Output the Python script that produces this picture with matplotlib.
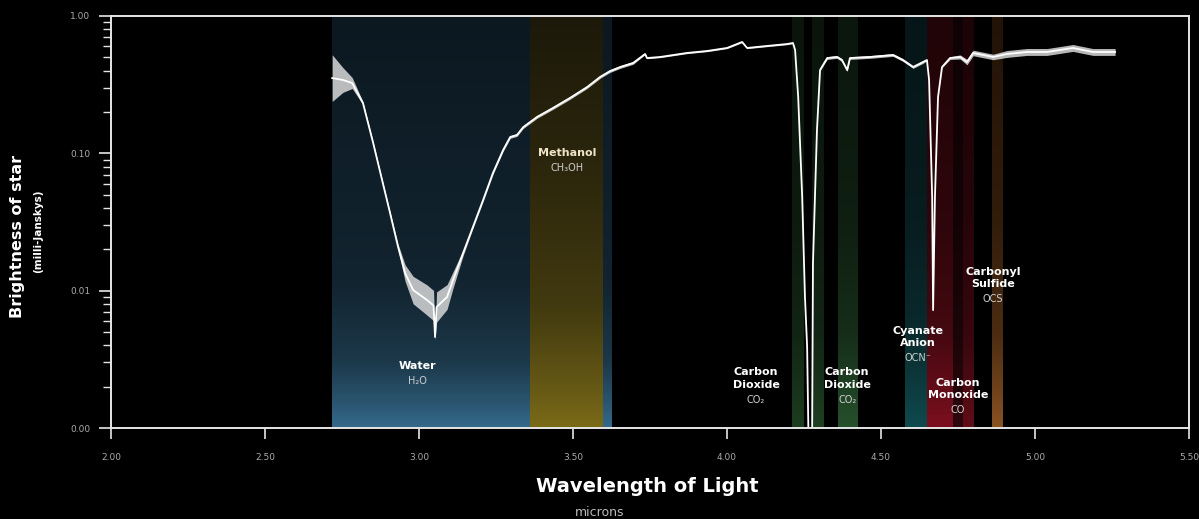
import numpy as np
import matplotlib
matplotlib.use("Agg")
import matplotlib.pyplot as plt
from matplotlib.colors import LinearSegmentedColormap, to_rgb
from matplotlib.ticker import FixedLocator, FuncFormatter, LogLocator, NullFormatter

# spectrum (wavelength in microns, brightness in mJy)
wavelength = [2.718, 2.753, 2.783, 2.818, 2.851, 2.880, 2.906, 2.932, 2.955, 2.981,
              3.026, 3.047, 3.052, 3.057, 3.091, 3.110, 3.143, 3.175, 3.208, 3.240,
              3.273, 3.296, 3.318, 3.338, 3.383, 3.435, 3.490, 3.546, 3.588, 3.620,
              3.653, 3.695, 3.734, 3.740, 3.783, 3.870, 3.935, 4.000, 4.049, 4.065,
              4.130, 4.195, 4.214, 4.221, 4.231, 4.244, 4.253, 4.260, 4.265, 4.276,
              4.279, 4.292, 4.302, 4.325, 4.357, 4.373, 4.390, 4.399, 4.464, 4.539,
              4.571, 4.604, 4.636, 4.649, 4.656, 4.666, 4.669, 4.675, 4.685, 4.698,
              4.724, 4.757, 4.779, 4.799, 4.864, 4.909, 4.974, 5.039, 5.123, 5.188,
              5.260]
brightness = [0.353, 0.342, 0.325, 0.232, 0.119, 0.0639, 0.0367, 0.0208, 0.0134, 0.0101,
              0.00855, 0.0078, 0.0046, 0.0076, 0.0090, 0.0119, 0.0188, 0.0291, 0.0457, 0.0719,
              0.1057, 0.1315, 0.136, 0.155, 0.184, 0.214, 0.253, 0.304, 0.360, 0.397,
              0.425, 0.455, 0.529, 0.494, 0.503, 0.538, 0.556, 0.585, 0.647, 0.585,
              0.605, 0.625, 0.636, 0.565, 0.257, 0.048, 0.0090, 0.0039, 0.0007, 0.0007,
              0.0159, 0.148, 0.404, 0.494, 0.503, 0.478, 0.404, 0.494, 0.503, 0.520,
              0.478, 0.425, 0.462, 0.478, 0.342, 0.048, 0.00722, 0.048, 0.257, 0.425,
              0.494, 0.503, 0.462, 0.538, 0.503, 0.529, 0.547, 0.547, 0.585, 0.547,
              0.547]
# scatter of the noisy trace around the curve (dex, half width)
spread = [0.17, 0.09, 0.04, 0.01, 0.01, 0.01, 0.01, 0.02, 0.06, 0.10,
          0.11, 0.11, 0.02, 0.11, 0.09, 0.06, 0.02, 0.01, 0.01, 0.01,
          0.01, 0.01, 0.01, 0.01, 0.01, 0.01, 0.01, 0.01, 0.01, 0.01,
          0.01, 0.01, 0.005, 0.005, 0.005, 0.005, 0.005, 0.005, 0.005, 0.005,
          0.005, 0.005, 0.005, 0.0, 0.0, 0.0, 0.0, 0.0, 0.0, 0.0,
          0.0, 0.0, 0.005, 0.01, 0.01, 0.01, 0.01, 0.01, 0.01, 0.01,
          0.01, 0.01, 0.01, 0.005, 0.0, 0.0, 0.0, 0.0, 0.0, 0.005,
          0.01, 0.015, 0.02, 0.02, 0.02, 0.025, 0.025, 0.025, 0.025, 0.025,
          0.025]

# absorption bands: start, end, bottom colour, top colour, how far up the glow reaches
band_start = [2.718, 3.360, 4.211, 4.276, 4.360, 4.578, 4.649, 4.734, 4.766, 4.860]
band_end = [3.627, 3.594, 4.247, 4.312, 4.422, 4.649, 4.734, 4.766, 4.799, 4.893]
band_bottom = ["#34698a", "#7a6a18", "#1d3d20", "#1f4022", "#26502c", "#0f4a4e",
               "#7c0f1f", "#2e080d", "#600d18", "#8a5222"]
band_top = ["#0c1820", "#1c190a", "#0a140b", "#0a140b", "#0b160d", "#061517",
            "#200407", "#0e0204", "#1c0306", "#221307"]
band_reach = [0.35, 0.65, 0.5, 0.5, 0.5, 0.5, 0.5, 0.5, 0.5, 0.5]

labels = [("Water", "H\u2082O", 2.994, 0.00262),
          ("Methanol", "CH\u2083OH", 3.48, 0.093),
          ("Carbon\nDioxide", "CO\u2082", 4.094, 0.0019),
          ("Carbon\nDioxide", "CO\u2082", 4.390, 0.0019),
          ("Cyanate\nAnion", "OCN\u207b", 4.620, 0.0038),
          ("Carbon\nMonoxide", "CO", 4.750, 0.0016),
          ("Carbonyl\nSulfide", "OCS", 4.864, 0.0102)]

x_ticks = [2.0, 2.5, 3.0, 3.5, 4.0, 4.5, 5.0, 5.5]
y_ticks = [0.001, 0.01, 0.1, 1.0]

fig = plt.figure(figsize=(11.99, 5.19), dpi=100, facecolor="black")
pos = [0.0926, 0.1753, 0.9917 - 0.0926, 0.9692 - 0.1753]

# background axes for the coloured bands
bg = fig.add_axes(pos, facecolor="black")
bg.set_xlim(2.0, 5.5)
bg.set_ylim(0, 1)
bg.axis("off")
for x0, x1, cb, ct, r in zip(band_start, band_end, band_bottom, band_top, band_reach):
    b, t = np.array(to_rgb(cb)), np.array(to_rgb(ct))
    stops = [(0.0, 1.0), (r * 0.17, 0.75), (r * 0.45, 0.4), (r, 0.15), (1.0, 0.0)]
    cmap = LinearSegmentedColormap.from_list("b", [(p, t + m * (b - t)) for p, m in stops])
    grad = np.linspace(0, 1, 300)[:, None]
    bg.imshow(grad, cmap=cmap, aspect="auto", extent=(x0, x1, 0, 1),
              origin="lower", interpolation="bilinear")

ax = fig.add_axes(pos, facecolor="none")
ax.set_yscale("log")
ax.set_xlim(2.0, 5.5)
ax.set_ylim(0.001, 1.0)

wl = np.array(wavelength)
fl = np.array(brightness)
sp = np.array(spread)
ax.fill_between(wl, fl * 10 ** (-sp), fl * 10 ** sp, color="#d8d8d8", lw=0, alpha=0.85)
ax.plot(wl, fl, color="white", lw=1.3)

for name, formula, x, y in labels:
    c = "#eee4c8" if name == "Methanol" else "white"
    ax.text(x, y, name, color=c, fontsize=8, fontweight="bold", ha="center",
            va="bottom", linespacing=1.3)
    ax.text(x, y * 0.92, formula, color="#cfcfcf", fontsize=7, ha="center", va="top")

for s in ax.spines.values():
    s.set_color("#e6e6e6")
    s.set_linewidth(1.4)

ax.xaxis.set_major_locator(FixedLocator(x_ticks))
ax.xaxis.set_major_formatter(FuncFormatter(lambda v, p: f"{v:.2f}"))
ax.yaxis.set_major_locator(FixedLocator(y_ticks))
ax.yaxis.set_major_formatter(FuncFormatter(lambda v, p: f"{v:.2f}"))
ax.yaxis.set_minor_locator(LogLocator(base=10, subs=np.arange(2, 10)))
ax.yaxis.set_minor_formatter(NullFormatter())
ax.tick_params(axis="x", colors="#e6e6e6", labelcolor="#aaaaaa", labelsize=6.5,
               length=8, width=1.2, pad=10, direction="out")
ax.tick_params(axis="y", which="major", colors="#e6e6e6", labelcolor="#aaaaaa",
               labelsize=6.5, length=9, width=1.2, pad=6)
ax.tick_params(axis="y", which="minor", colors="#e6e6e6", length=6, width=1.0)

fig.text(0.015, 0.545, "Brightness of star", rotation=90, color="white", fontsize=11.5,
         fontweight="bold", ha="center", va="center")
fig.text(0.032, 0.555, "(milli-Janskys)", rotation=90, color="white", fontsize=7.5,
         fontweight="bold", ha="center", va="center")
fig.text(0.54, 0.062, "Wavelength of Light", color="white", fontsize=14,
         fontweight="bold", ha="center", va="center")
fig.text(0.50, 0.012, "microns", color="#bbbbbb", fontsize=9, ha="center", va="center")

fig.savefig("out.png", dpi=100, facecolor="black")
